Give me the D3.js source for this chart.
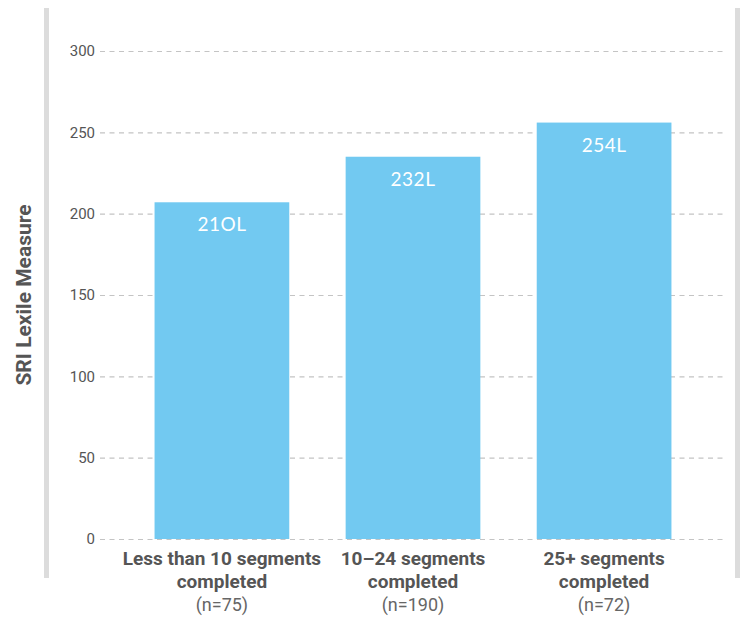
<!DOCTYPE html>
<html>
<head>
<meta charset="utf-8">
<script src="https://cdn.jsdelivr.net/npm/d3@7"></script>
<style>
  html, body { margin: 0; padding: 0; background: #fff; }
  svg { display: block; }
</style>
</head>
<body>
<svg id="chart" width="745" height="620"></svg>
<script>
const categories = ["Less than 10 segments", "10\u201324 segments", "25+ segments"];
const categoryLine2 = ["completed", "completed", "completed"];
const sampleSizes = ["(n=75)", "(n=190)", "(n=72)"];
const barValues = [207, 235, 256];
const valueLabels = ["21OL", "232L", "254L"];
const yTicks = [0, 50, 100, 150, 200, 250, 300];
const yTitle = "SRI Lexile Measure";

const svg = d3.select("#chart");
const condensed = "'Liberation Sans Narrow', 'Arial Narrow', 'Roboto', sans-serif";

const y = d3.scaleLinear().domain([0, 300]).range([539, 51]);
const x = d3.scaleBand().domain(categories).range([102, 724]).paddingInner(0.295).paddingOuter(0.275);

// side frame bars
svg.append("rect").attr("x", 44).attr("y", 8).attr("width", 5).attr("height", 570).attr("fill", "#dcdcdc");
svg.append("rect").attr("x", 735).attr("y", 8).attr("width", 5).attr("height", 570).attr("fill", "#dcdcdc");

// grid + ticks via axis
const axis = d3.axisLeft(y).tickValues(yTicks).tickSize(-623).tickPadding(6);
const g = svg.append("g").attr("transform", "translate(100,0)").call(axis);
g.select(".domain").remove();
g.selectAll(".tick line")
  .attr("stroke", "#c4c4c4").attr("stroke-width", 1.2).attr("stroke-dasharray", "5,4.5")
  .attr("x1", 0).attr("x2", 623);
g.selectAll(".tick text")
  .attr("font-family", "Roboto, 'Liberation Sans', sans-serif")
  .attr("font-size", 15).attr("fill", "#555").attr("x", -5);

// bars
svg.selectAll("rect.bar").data(barValues).enter().append("rect")
  .attr("class", "bar")
  .attr("x", (d, i) => x(categories[i]))
  .attr("width", x.bandwidth())
  .attr("y", d => y(d))
  .attr("height", d => y(0) - y(d))
  .attr("fill", "#72c9f1");

// value labels
svg.selectAll("text.val").data(barValues).enter().append("text")
  .attr("class", "val")
  .attr("x", (d, i) => x(categories[i]) + x.bandwidth() / 2)
  .attr("y", d => y(d) + 29)
  .attr("text-anchor", "middle")
  .attr("font-family", "Lato, 'Open Sans', sans-serif")
  .attr("font-weight", 400)
  .attr("font-size", 19)
  .attr("letter-spacing", "0.5px")
  .attr("fill", "#ffffff")
  .text((d, i) => valueLabels[i]);

// category labels
categories.forEach((c, i) => {
  const cx = x(c) + x.bandwidth() / 2;
  const t = svg.append("text").attr("text-anchor", "middle").attr("font-family", condensed);
  t.append("tspan").attr("x", cx).attr("y", 565).attr("font-weight", "bold").attr("font-size", 19).attr("fill", "#555").text(c);
  t.append("tspan").attr("x", cx).attr("y", 588).attr("font-weight", "bold").attr("font-size", 19).attr("fill", "#555").text(categoryLine2[i]);
  t.append("tspan").attr("x", cx).attr("y", 611).attr("font-size", 18).attr("fill", "#666").text(sampleSizes[i]);
});

// y title
svg.append("text")
  .attr("transform", "translate(31,295) rotate(-90)")
  .attr("text-anchor", "middle")
  .attr("font-family", condensed)
  .attr("font-weight", "bold")
  .attr("font-size", 21)
  .attr("fill", "#555")
  .text(yTitle);
</script>
</body>
</html>
